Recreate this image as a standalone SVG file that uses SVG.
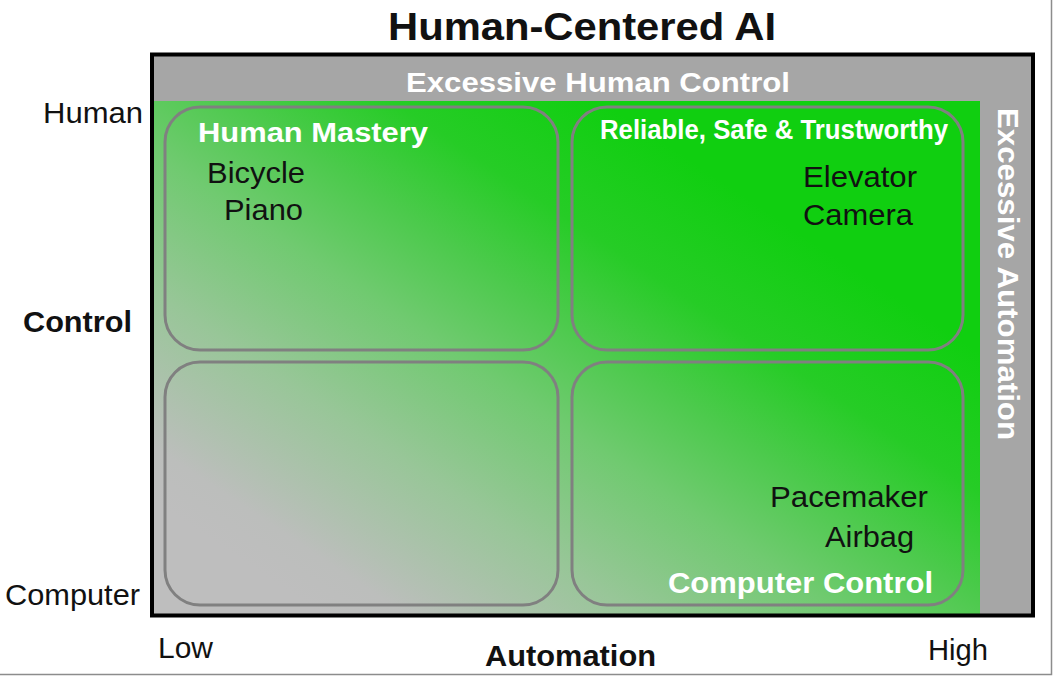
<svg xmlns="http://www.w3.org/2000/svg" width="1054" height="676" viewBox="0 0 1054 676">
  <defs>
    <linearGradient id="gr" gradientUnits="userSpaceOnUse" x1="300" y1="600" x2="623" y2="115">
      <stop offset="0" stop-color="#bebebe"/>
      <stop offset="0.08" stop-color="#bcbebc"/>
      <stop offset="0.3" stop-color="#98c698"/>
      <stop offset="0.5" stop-color="#70ca70"/>
      <stop offset="0.65" stop-color="#4cca4c"/>
      <stop offset="0.8" stop-color="#26cc26"/>
      <stop offset="1" stop-color="#10cf10"/>
    </linearGradient>
    <style>
      .box { fill: none; stroke: #808080; stroke-width: 3; }
      .wb { font-family: "Liberation Sans", Arial, sans-serif; font-weight: bold; fill: #ffffff; }
      .bk { font-family: "Liberation Sans", Arial, sans-serif; fill: #111111; font-size: 30px; }
      .bkb { font-family: "Liberation Sans", Arial, sans-serif; font-weight: bold; fill: #111111; }
      .bar { fill: #a6a6a6; }
    </style>
  </defs>
  <rect width="1054" height="676" fill="#ffffff"/>
  <polyline points="1051.5,0 1051.5,674.5 0,674.5" fill="none" stroke="#8c8c8c" stroke-width="1.5"/>

  <text class="bkb" x="388" y="40" font-size="38" textLength="388" lengthAdjust="spacingAndGlyphs">Human-Centered AI</text>

  <g id="frame">
    <rect class="bar" x="154" y="56" width="877" height="45"/>
    <rect x="154" y="101" width="826" height="513" fill="url(#gr)"/>
    <rect class="bar" x="980" y="101" width="51" height="513"/>
    <rect x="152" y="54.5" width="881" height="561" fill="none" stroke="#000000" stroke-width="4"/>
  </g>

  <g id="excessive-human-control">
    <text class="wb" x="406" y="92" font-size="28" textLength="384" lengthAdjust="spacingAndGlyphs">Excessive Human Control</text>
  </g>

  <g id="excessive-automation">
    <text class="wb" transform="translate(998,108) rotate(90)" x="0" y="0" font-size="30" textLength="332" lengthAdjust="spacingAndGlyphs">Excessive Automation</text>
  </g>

  <g id="human-mastery">
    <rect class="box" x="165" y="107" width="393" height="243" rx="35" ry="35"/>
    <text class="wb" x="198" y="142" font-size="28" textLength="230" lengthAdjust="spacingAndGlyphs">Human Mastery</text>
    <text class="bk" x="207" y="183" textLength="98" lengthAdjust="spacingAndGlyphs">Bicycle</text>
    <text class="bk" x="224" y="220" textLength="79" lengthAdjust="spacingAndGlyphs">Piano</text>
  </g>

  <g id="reliable-safe-trustworthy">
    <rect class="box" x="572" y="107" width="391" height="243" rx="35" ry="35"/>
    <text class="wb" x="600" y="139" font-size="27" textLength="348" lengthAdjust="spacingAndGlyphs">Reliable, Safe &amp; Trustworthy</text>
    <text class="bk" x="803" y="187" textLength="114" lengthAdjust="spacingAndGlyphs">Elevator</text>
    <text class="bk" x="803" y="225" textLength="110" lengthAdjust="spacingAndGlyphs">Camera</text>
  </g>

  <g id="low-low">
    <rect class="box" x="165" y="362" width="393" height="243" rx="35" ry="35"/>
  </g>

  <g id="computer-control">
    <rect class="box" x="572" y="362" width="391" height="243" rx="35" ry="35"/>
    <text class="bk" x="770" y="507" textLength="158" lengthAdjust="spacingAndGlyphs">Pacemaker</text>
    <text class="bk" x="825" y="547" textLength="89" lengthAdjust="spacingAndGlyphs">Airbag</text>
    <text class="wb" x="668" y="593" font-size="29" textLength="265" lengthAdjust="spacingAndGlyphs">Computer Control</text>
  </g>

  <g id="axis-labels">
    <text class="bk" x="43" y="123" textLength="100" lengthAdjust="spacingAndGlyphs">Human</text>
    <text class="bkb" x="23" y="332" font-size="29" textLength="109" lengthAdjust="spacingAndGlyphs">Control</text>
    <text class="bk" x="5" y="605" textLength="135" lengthAdjust="spacingAndGlyphs">Computer</text>
    <text class="bk" x="158" y="658" textLength="55" lengthAdjust="spacingAndGlyphs">Low</text>
    <text class="bkb" x="485" y="666" font-size="29" textLength="171" lengthAdjust="spacingAndGlyphs">Automation</text>
    <text class="bk" x="928" y="660" textLength="60" lengthAdjust="spacingAndGlyphs">High</text>
  </g>

  <g id="connectors"/>
</svg>
